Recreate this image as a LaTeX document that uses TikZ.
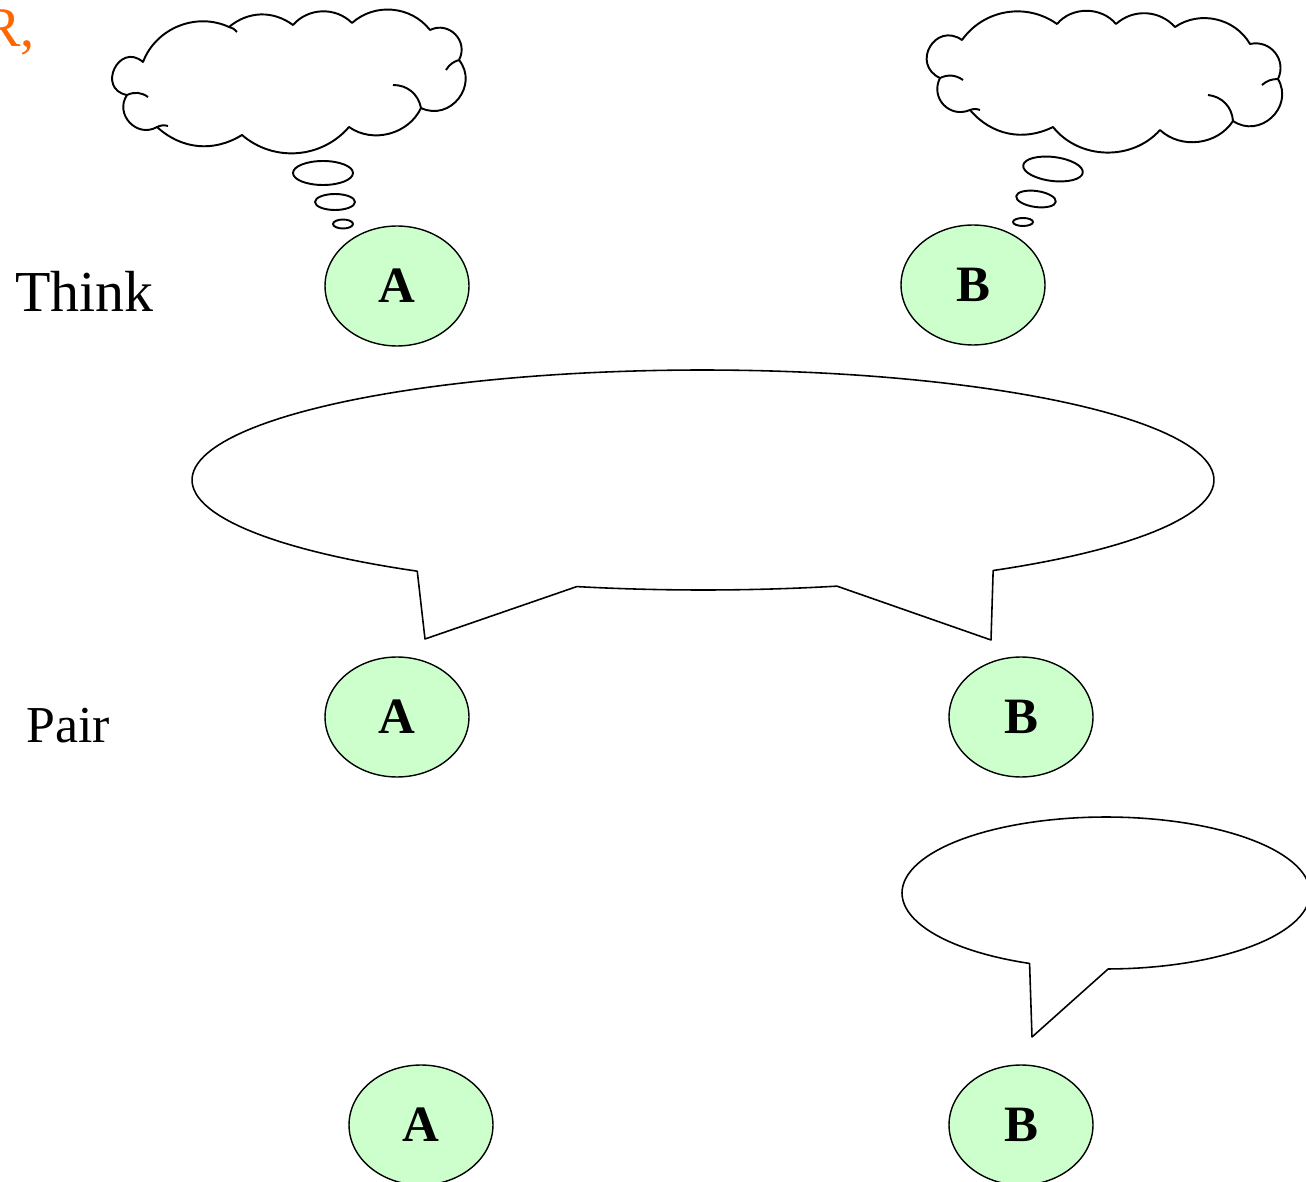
\documentclass[tikz,border=0pt]{standalone}
\usepackage{fontspec}
\setmainfont{Liberation Serif}
\usetikzlibrary{shapes.geometric}

\begin{document}
\begin{tikzpicture}
[x=0.02cm,y=-0.02cm,line join=round,
                    main node/.style={ellipse,draw,line width=0.8pt,fill=green!20,minimum width=2.88cm,minimum height=2.4cm,inner sep=0pt,font=\fontsize{29}{30}\selectfont\bfseries},
                    side label/.style={inner sep=0pt,anchor=base west},
                    cloud line/.style={draw,line width=1.1pt},
                    bubble/.style={draw,fill=white,line width=0.9pt}]

  \useasboundingbox (0,0) rectangle (1306,1182);

  % labels on the left
  \node[side label,anchor=base east,text=orange!80!red,font=\fontsize{32}{34}\selectfont] (r) at (35,47) {R,};
  \node[side label,font=\fontsize{33}{36}\selectfont] (think) at (15,312) {Think};
  \node[side label,font=\fontsize{29.5}{32}\selectfont] (pair) at (26,742) {Pair};

  % thought clouds
  \draw[cloud line,fill=white] (143,62) to[bend left=47] (229,27) to[bend left=38] (293,25)
    to[bend left=47] (352,23) to[bend left=47] (430,30) to[bend left=72,looseness=1.3] (459,60)
    to[bend left=77,looseness=1.35] (421,108) to[bend left=50] (349,127) to[bend left=45] (242,135)
    to[bend left=37] (157,127) to[bend left=77,looseness=1.35] (127,95)
    to[bend left=105,looseness=2.2] (143,62) -- cycle;
  \draw[cloud line] (459,60) to[bend right=20] (446,70);
  \draw[cloud line] (421,108) to[bend right=40] (393,85);
  \draw[cloud line] (127,95) to[bend left=30] (148,97);
  \draw[cloud line] (157,127) to[bend left=20] (168,126);
  \draw[cloud line] (229,27) to[bend left=20] (237,32);

  \draw[cloud line,fill=white] (962,40) to[bend left=45] (1057,24) to[bend left=50] (1116,24)
    to[bend left=45] (1175,27) to[bend left=47] (1250,44) to[bend left=64,looseness=1.2] (1278,79)
    to[bend left=77,looseness=1.35] (1233,121) to[bend left=50] (1160,130) to[bend left=50] (1053,127)
    to[bend left=38] (970,110) to[bend left=70,looseness=1.3] (940,78)
    to[bend left=95,looseness=1.9] (962,40) -- cycle;
  \draw[cloud line] (1278,79) to[bend right=20] (1262,85);
  \draw[cloud line] (1233,121) to[bend right=40] (1208,95);
  \draw[cloud line] (940,78) to[bend left=30] (963,80);
  \draw[cloud line] (970,110) to[bend left=20] (980,110);

  % small thought bubbles
  \draw[cloud line] (323,173) ellipse[x radius=30,y radius=12];
  \draw[cloud line] (335,202) ellipse[x radius=20,y radius=8];
  \draw[cloud line] (343,224) ellipse[x radius=10,y radius=4.5];
  \draw[cloud line,rotate around={-7:(1053,169)}] (1053,169) ellipse[x radius=30,y radius=12];
  \draw[cloud line,rotate around={-8:(1036,199)}] (1036,199) ellipse[x radius=20,y radius=8];
  \draw[cloud line] (1023,222) ellipse[x radius=10,y radius=4];

  % speech bubbles
  \draw[bubble] (425,639) -- plot[domain=104.3:74.8,samples=30] ({703+511*cos(\x)},{480+110*sin(\x)})
    -- (991,640) -- plot[domain=55.4:-236,samples=150] ({703+511*cos(\x)},{480+110*sin(\x)}) -- cycle;
  \draw[bubble] (1032,1037) -- plot[domain=89.4:-248,samples=120] ({1106+204*cos(\x)},{893+76*sin(\x)}) -- cycle;

  % students
  \node[main node] (1) at (397,286) {A};
  \node[main node] (2) at (973,285) {B};
  \node[main node] (3) at (397,717) {A};
  \node[main node] (4) at (1021,717) {B};
  \node[main node] (5) at (421,1125) {A};
  \node[main node] (6) at (1021,1125) {B};
\end{tikzpicture}
\end{document}
